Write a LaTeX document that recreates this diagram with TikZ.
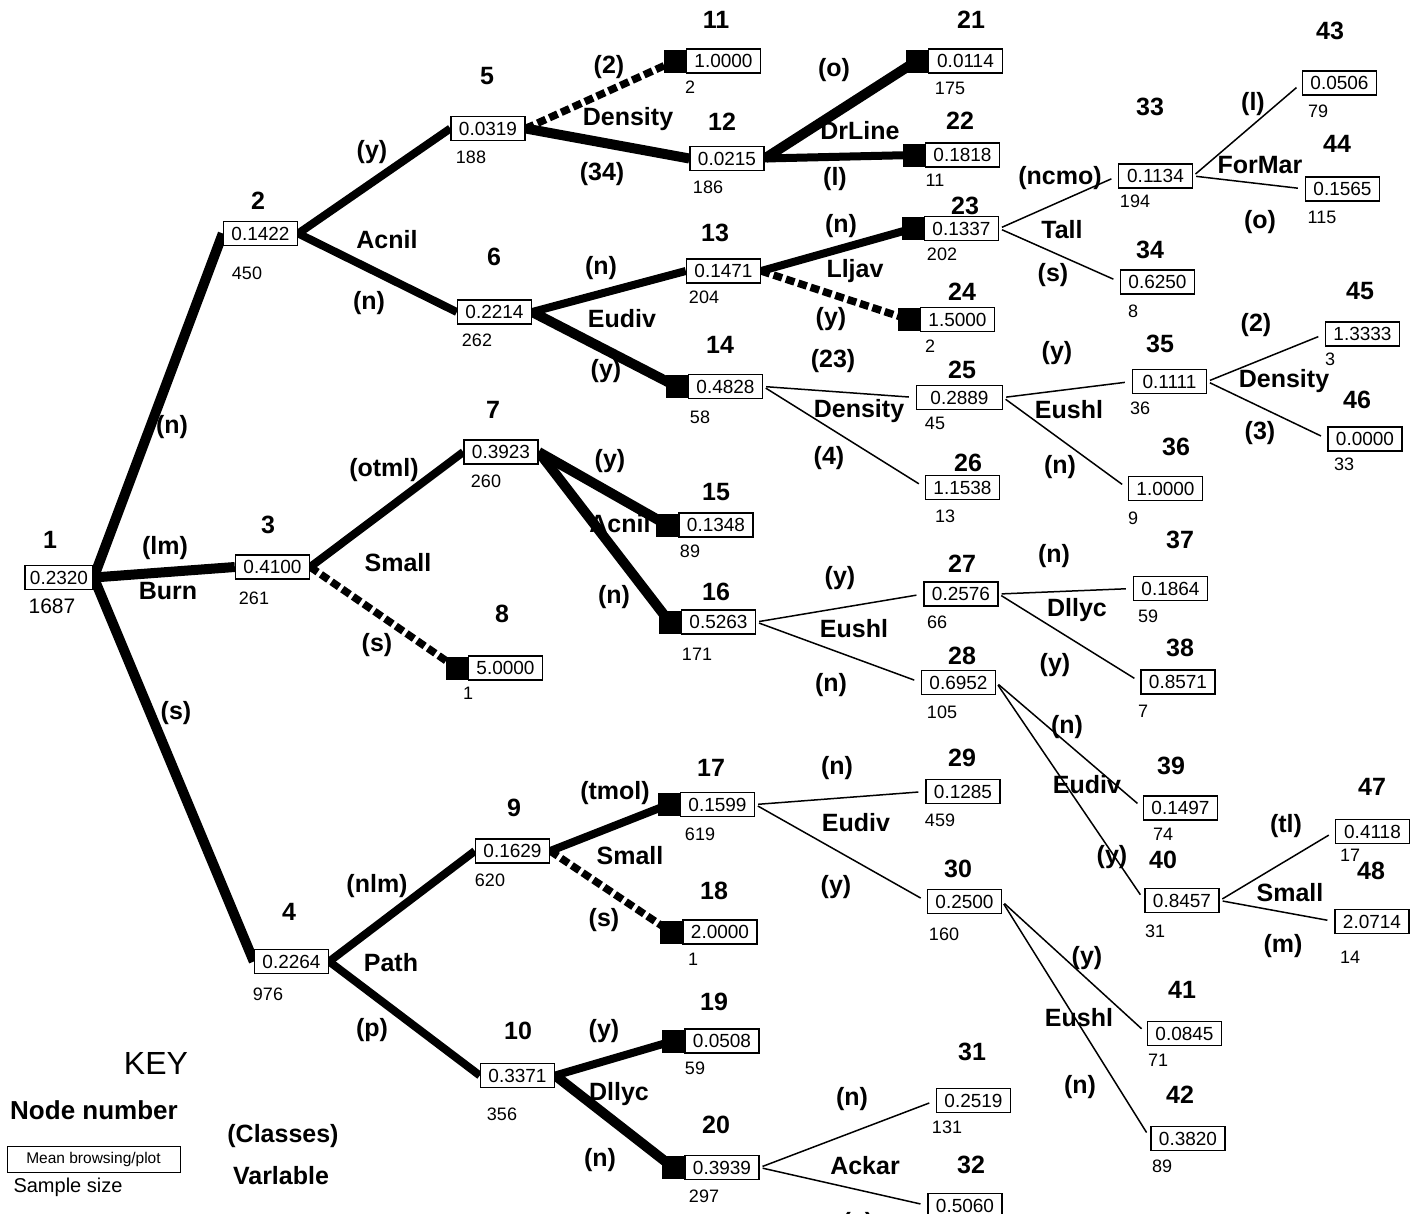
\documentclass[tikz,border=0pt]{standalone}
\usepackage{fontspec}
\setmainfont{Liberation Sans}
\pgfdeclarelayer{bg}
\pgfsetlayers{bg,main}
\begin{document}
\begin{tikzpicture}[x=1pt,y=-1pt,
  vbox/.style={draw, line width=1.4pt, fill=white, minimum width=74pt, minimum height=24pt, inner sep=0pt, font=\fontsize{19}{19}\selectfont},
  num/.style={font=\bfseries\fontsize{25}{25}\selectfont, inner sep=0pt},
  ss/.style={font=\fontsize{18}{18}\selectfont, inner sep=0pt},
  lab/.style={font=\bfseries\fontsize{25}{25}\selectfont, inner sep=0pt},
  sq/.style={fill=black, minimum width=22pt, minimum height=23pt, inner sep=0pt, anchor=east},
  thkA/.style={line width=10pt},
  thkB/.style={line width=8pt},
  dsh/.style={line width=7.5pt, dash pattern=on 9pt off 4pt},
  thn/.style={line width=1.5pt, shorten <=3pt, shorten >=7pt}]
\useasboundingbox (0,0) rectangle (1411,1213);

% ---------- boxes ----------
\node[vbox, minimum width=68pt] (n1) at (59,577.5) {0.2320};
\node[vbox] (n2) at (260.5,233.5) {0.1422};
\node[vbox] (n3) at (272.5,567) {0.4100};
\node[vbox] (n4) at (291.5,961.5) {0.2264};
\node[vbox] (n5) at (488,128.5) {0.0319};
\node[vbox] (n6) at (494.5,312) {0.2214};
\node[vbox] (n7) at (501,452) {0.3923};
\node[vbox] (n8) at (505.5,668) {5.0000};
\node[vbox] (n9) at (512.5,851) {0.1629};
\node[vbox] (n10) at (517.5,1075.5) {0.3371};
\node[vbox] (n11) at (723.5,61) {1.0000};
\node[vbox] (n12) at (727,158.5) {0.0215};
\node[vbox] (n13) at (723.5,271) {0.1471};
\node[vbox] (n14) at (725.5,386.5) {0.4828};
\node[vbox] (n15) at (716,525) {0.1348};
\node[vbox] (n16) at (718.5,622) {0.5263};
\node[vbox] (n17) at (717.5,804.5) {0.1599};
\node[vbox] (n18) at (720,932) {2.0000};
\node[vbox] (n19) at (722,1041) {0.0508};
\node[vbox] (n20) at (722,1167.5) {0.3939};
\node[vbox] (n21) at (965.5,61) {0.0114};
\node[vbox] (n22) at (962.5,155) {0.1818};
\node[vbox] (n23) at (961.5,228.5) {0.1337};
\node[vbox] (n24) at (957.5,319.5) {1.5000};
\node[vbox, minimum width=86pt] (n25) at (959.5,397.5) {0.2889};
\node[vbox] (n26) at (962.5,487.5) {1.1538};
\node[vbox] (n27) at (961,594) {0.2576};
\node[vbox] (n28) at (958.5,682.5) {0.6952};
\node[vbox] (n29) at (963,791.5) {0.1285};
\node[vbox] (n30) at (964.5,901.5) {0.2500};
\node[vbox] (n31) at (973.5,1100.5) {0.2519};
\node[vbox] (n32) at (965,1205.5) {0.5060};
\node[vbox] (n33) at (1155.5,176) {0.1134};
\node[vbox] (n34) at (1157.5,282) {0.6250};
\node[vbox] (n35) at (1169.5,381.5) {0.1111};
\node[vbox] (n36) at (1165.5,488.5) {1.0000};
\node[vbox] (n37) at (1170.5,588.5) {0.1864};
\node[vbox] (n38) at (1178,682) {0.8571};
\node[vbox] (n39) at (1180.5,808) {0.1497};
\node[vbox] (n40) at (1182,900.5) {0.8457};
\node[vbox] (n41) at (1184.5,1033.5) {0.0845};
\node[vbox] (n42) at (1188,1138.5) {0.3820};
\node[vbox] (n43) at (1339.5,83) {0.0506};
\node[vbox] (n44) at (1342.5,189) {0.1565};
\node[vbox] (n45) at (1362.5,334) {1.3333};
\node[vbox] (n46) at (1365,439) {0.0000};
\node[vbox] (n47) at (1372.5,831.5) {0.4118};
\node[vbox] (n48) at (1372,921.5) {2.0714};

% ---------- black end squares ----------
\foreach \i in {8,11,14,15,16,17,18,19,20,21,22,23,24}
  \node[sq] (q\i) at (n\i.west) {};

% ---------- node numbers ----------
\node[num] (k1) at (50,540) {1};
\node[num] (k2) at (258,201) {2};
\node[num] (k3) at (268,525) {3};
\node[num] (k4) at (289,912) {4};
\node[num] (k5) at (487,76) {5};
\node[num] (k6) at (494,257) {6};
\node[num] (k7) at (493,410) {7};
\node[num] (k8) at (502,614) {8};
\node[num] (k9) at (514,808) {9};
\node[num] (k10) at (518,1031) {10};
\node[num] (k11) at (716,20) {11};
\node[num] (k12) at (722,122) {12};
\node[num] (k13) at (715,233) {13};
\node[num] (k14) at (720,345) {14};
\node[num] (k15) at (716,492) {15};
\node[num] (k16) at (716,592) {16};
\node[num] (k17) at (711,768) {17};
\node[num] (k18) at (714,891) {18};
\node[num] (k19) at (714,1002) {19};
\node[num] (k20) at (716,1125) {20};
\node[num] (k21) at (971,20) {21};
\node[num] (k22) at (960,121) {22};
\node[num] (k23) at (965,206) {23};
\node[num] (k24) at (962,292) {24};
\node[num] (k25) at (962,370) {25};
\node[num] (k26) at (968,463) {26};
\node[num] (k27) at (962,564) {27};
\node[num] (k28) at (962,656) {28};
\node[num] (k29) at (962,758) {29};
\node[num] (k30) at (958,869) {30};
\node[num] (k31) at (972,1052) {31};
\node[num] (k32) at (971,1165) {32};
\node[num] (k33) at (1150,107) {33};
\node[num] (k34) at (1150,250) {34};
\node[num] (k35) at (1160,344) {35};
\node[num] (k36) at (1176,447) {36};
\node[num] (k37) at (1180,540) {37};
\node[num] (k38) at (1180,648) {38};
\node[num] (k39) at (1171,766) {39};
\node[num] (k40) at (1163,860) {40};
\node[num] (k41) at (1182,990) {41};
\node[num] (k42) at (1180,1095) {42};
\node[num] (k43) at (1330,31) {43};
\node[num] (k44) at (1337,144) {44};
\node[num] (k45) at (1360,291) {45};
\node[num] (k46) at (1357,400) {46};
\node[num] (k47) at (1372,787) {47};
\node[num] (k48) at (1371,871) {48};

% ---------- sample sizes ----------
\node[ss, font=\fontsize{21}{21}\selectfont] (s1) at (52,606) {1687};
\node[ss] (s2) at (247,273) {450};
\node[ss] (s3) at (254,598) {261};
\node[ss] (s4) at (268,994) {976};
\node[ss] (s5) at (471,157) {188};
\node[ss] (s6) at (477,340) {262};
\node[ss] (s7) at (486,481) {260};
\node[ss] (s8) at (468,693) {1};
\node[ss] (s9) at (490,880) {620};
\node[ss] (s10) at (502,1114) {356};
\node[ss] (s11) at (690,87) {2};
\node[ss] (s12) at (708,187) {186};
\node[ss] (s13) at (704,297) {204};
\node[ss] (s14) at (700,417) {58};
\node[ss] (s15) at (690,551) {89};
\node[ss] (s16) at (697,654) {171};
\node[ss] (s17) at (700,834) {619};
\node[ss] (s18) at (693,959) {1};
\node[ss] (s19) at (695,1068) {59};
\node[ss] (s20) at (704,1196) {297};
\node[ss] (s21) at (950,88) {175};
\node[ss] (s22) at (935,180) {11};
\node[ss] (s23) at (942,254) {202};
\node[ss] (s24) at (930,346) {2};
\node[ss] (s25) at (935,423) {45};
\node[ss] (s26) at (945,516) {13};
\node[ss] (s27) at (937,622) {66};
\node[ss] (s28) at (942,712) {105};
\node[ss] (s29) at (940,820) {459};
\node[ss] (s30) at (944,934) {160};
\node[ss] (s31) at (947,1127) {131};
\node[ss] (s33) at (1135,201) {194};
\node[ss] (s34) at (1133,311) {8};
\node[ss] (s35) at (1140,408) {36};
\node[ss] (s36) at (1133,518) {9};
\node[ss] (s37) at (1148,616) {59};
\node[ss] (s38) at (1143,711) {7};
\node[ss] (s39) at (1163,834) {74};
\node[ss] (s40) at (1155,931) {31};
\node[ss] (s41) at (1158,1060) {71};
\node[ss] (s42) at (1162,1166) {89};
\node[ss] (s43) at (1318,111) {79};
\node[ss] (s44) at (1322,217) {115};
\node[ss] (s45) at (1330,359) {3};
\node[ss] (s46) at (1344,464) {33};
\node[ss] (s47) at (1350,855) {17};
\node[ss] (s48) at (1350,957) {14};

% ---------- split labels ----------
\node[lab] (a1) at (172,427) {(n)};
\node[lab] (a2) at (165,548) {(lm)};
\node[lab] (a3) at (168,591) {Burn};
\node[lab] (a4) at (176,713) {(s)};
\node[lab] (b1) at (372,152) {(y)};
\node[lab] (b2) at (387,240) {Acnil};
\node[lab] (b3) at (369,303) {(n)};
\node[lab] (c1) at (384,470) {(otml)};
\node[lab] (c2) at (398,563) {Small};
\node[lab] (c3) at (377,645) {(s)};
\node[lab] (d1) at (377,886) {(nlm)};
\node[lab] (d2) at (391,963) {Path};
\node[lab] (d3) at (372,1030) {(p)};
\node[lab] (e1) at (609,67) {(2)};
\node[lab] (e2) at (628,119) {Density};
\node[lab] (e3) at (602,174) {(34)};
\node[lab] (f1) at (601,268) {(n)};
\node[lab] (f2) at (622,319) {Eudiv};
\node[lab] (f3) at (606,371) {(y)};
\node[lab] (g1) at (610,461) {(y)};
\node[lab] (g2) at (620,524) {Acnil};
\node[lab] (g3) at (614,597) {(n)};
\node[lab] (h1) at (615,793) {(tmol)};
\node[lab] (h2) at (630,856) {Small};
\node[lab] (h3) at (604,920) {(s)};
\node[lab] (i1) at (604,1031) {(y)};
\node[lab] (i2) at (619,1094) {Dllyc};
\node[lab] (i3) at (600,1160) {(n)};
\node[lab] (j1) at (834,70) {(o)};
\node[lab] (j2) at (860,131) {DrLine};
\node[lab] (j3) at (835,179) {(l)};
\node[lab] (m1) at (841,226) {(n)};
\node[lab] (m2) at (855,271) {Lljav};
\node[lab] (m3) at (831,319) {(y)};
\node[lab] (o1) at (833,361) {(23)};
\node[lab] (o2) at (859,411) {Density};
\node[lab] (o3) at (829,458) {(4)};
\node[lab] (p1) at (840,578) {(y)};
\node[lab] (p2) at (854,629) {Eushl};
\node[lab] (p3) at (831,685) {(n)};
\node[lab] (r1) at (837,768) {(n)};
\node[lab] (r2) at (856,823) {Eudiv};
\node[lab] (r3) at (836,887) {(y)};
\node[lab] (t1) at (852,1099) {(n)};
\node[lab] (t2) at (865,1166) {Ackar};
\node[lab] (t3) at (858,1224) {(y)};
\node[lab] (u1) at (1060,178) {(ncmo)};
\node[lab] (u2) at (1062,230) {Tall};
\node[lab] (u3) at (1053,275) {(s)};
\node[lab] (v1) at (1253,104) {(l)};
\node[lab] (v2) at (1260,165) {ForMar};
\node[lab] (v3) at (1260,222) {(o)};
\node[lab] (w1) at (1057,353) {(y)};
\node[lab] (w2) at (1069,410) {Eushl};
\node[lab] (w3) at (1060,467) {(n)};
\node[lab] (x1) at (1256,325) {(2)};
\node[lab] (x2) at (1284,381) {Density};
\node[lab] (x3) at (1260,433) {(3)};
\node[lab] (y1) at (1054,556) {(n)};
\node[lab] (y2) at (1077,610) {Dllyc};
\node[lab] (y3) at (1055,665) {(y)};
\node[lab] (z1) at (1067,727) {(n)};
\node[lab] (z2) at (1087,785) {Eudiv};
\node[lab] (z3) at (1112,857) {(y)};
\node[lab] (aa1) at (1286,826) {(tl)};
\node[lab] (aa2) at (1290,893) {Small};
\node[lab] (aa3) at (1283,946) {(m)};
\node[lab] (bb1) at (1087,958) {(y)};
\node[lab] (bb2) at (1079,1018) {Eushl};
\node[lab] (bb3) at (1080,1087) {(n)};

% ---------- key ----------
\node[font=\fontsize{32}{32}\selectfont, inner sep=0pt] (key) at (156,1063) {KEY};
\node[lab, font=\bfseries\fontsize{26}{26}\selectfont] (keynum) at (94,1110) {Node number};
\node[draw, line width=1pt, minimum width=173pt, minimum height=26pt, inner sep=0pt, font=\fontsize{15.5}{15.5}\selectfont] (keybox) at (93.5,1159) {Mean browsing/plot};
\node[font=\fontsize{20}{20}\selectfont, inner sep=0pt] (keyss) at (68,1187) {Sample size};
\node[lab] (keycl) at (283,1136) {(Classes)};
\node[lab] (keyvar) at (281,1176) {Varlable};

% ---------- connectors ----------
\begin{pgfonlayer}{bg}
\fill[white] (0,0) rectangle (1411,1213);
\draw[thkA] (n1.east) -- (n2.west);
\draw[thkA] (n1.east) -- (n3.west);
\draw[thkA] (n1.east) -- (n4.west);
\draw[thkB] (n2.east) -- (n5.west);
\draw[thkB] (n2.east) -- (n6.west);
\draw[thkB] (n3.east) -- (n7.west);
\draw[dsh] (n3.east) -- (q8.center);
\draw[thkB] (n4.east) -- (n9.west);
\draw[thkB] (n4.east) -- (n10.west);
\draw[dsh] (n5.east) -- (q11.center);
\draw[thkA] (n5.east) -- (n12.west);
\draw[thkB] (n6.east) -- (n13.west);
\draw[thkA] (n6.east) -- (q14.center);
\draw[thkA] (n7.east) -- (q15.center);
\draw[thkA] (n7.east) -- (q16.center);
\draw[thkB] (n9.east) -- (q17.center);
\draw[dsh] (n9.east) -- (q18.center);
\draw[thkB] (n10.east) -- (q19.center);
\draw[thkA] (n10.east) -- (q20.center);
\draw[thkA] (n12.east) -- (q21.center);
\draw[thkB] (n12.east) -- (q22.center);
\draw[thkB] (n13.east) -- (q23.center);
\draw[dsh] (n13.east) -- (q24.center);
\draw[thn] (n14.east) -- (n25.west);
\draw[thn] (n14.east) -- (n26.west);
\draw[thn] (n16.east) -- (n27.west);
\draw[thn] (n16.east) -- (n28.west);
\draw[thn] (n17.east) -- (n29.west);
\draw[thn] (n17.east) -- (n30.west);
\draw[thn] (n20.east) -- (n31.west);
\draw[thn] (n20.east) -- (n32.west);
\draw[thn] (n23.east) -- (n33.west);
\draw[thn] (n23.east) -- (n34.west);
\draw[thn] (n25.east) -- (n35.west);
\draw[thn] (n25.east) -- (n36.west);
\draw[thn] (n27.east) -- (n37.west);
\draw[thn] (n27.east) -- (n38.west);
\draw[thn] (n28.east) -- (n39.west);
\draw[thn] (n28.east) -- (n40.west);
\draw[thn] (n30.east) -- (n41.west);
\draw[thn] (n30.east) -- (n42.west);
\draw[thn] (n33.east) -- (n43.west);
\draw[thn] (n33.east) -- (n44.west);
\draw[thn] (n35.east) -- (n45.west);
\draw[thn] (n35.east) -- (n46.west);
\draw[thn] (n40.east) -- (n47.west);
\draw[thn] (n40.east) -- (n48.west);
\end{pgfonlayer}
\end{tikzpicture}
\end{document}
